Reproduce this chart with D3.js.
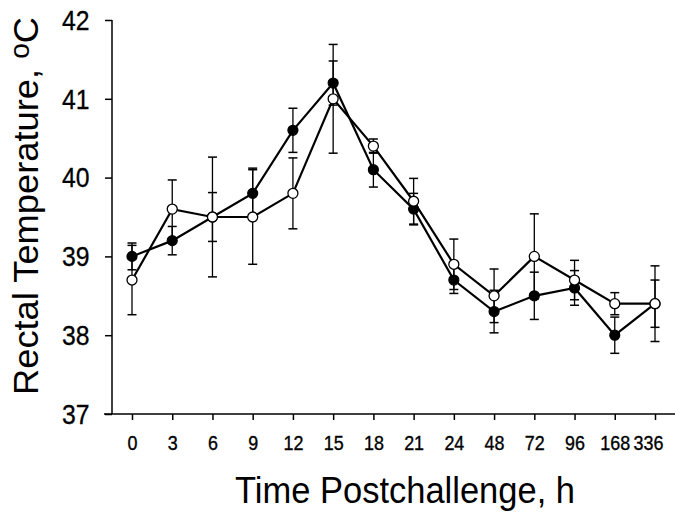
<!DOCTYPE html>
<html><head><meta charset="utf-8">
<script src="https://cdn.jsdelivr.net/npm/d3@7"></script>
<style>body{margin:0;background:#fff}svg{display:block}text{font-family:"Liberation Sans",Arial,sans-serif;fill:#000}</style>
</head><body>
<svg id="c" width="675" height="512"></svg>
<script>
const categories = ["0","3","6","9","12","15","18","21","24","48","72","96","168","336"];
const filledMean = [39.0,39.2,39.5,39.8,40.6,41.2,40.1,39.6,38.7,38.3,38.5,38.6,38.0,38.4];
const filledErr  = [0.17,0.18,0.31,0.32,0.28,0.28,0.22,0.20,0.17,0.27,0.30,0.22,0.23,0.30];
const openMean   = [38.7,39.6,39.5,39.5,39.8,41.0,40.4,39.7,38.9,38.5,39.0,38.7,38.4,38.4];
const openErr    = [0.44,0.37,0.76,0.60,0.45,0.69,0.09,0.29,0.32,0.34,0.54,0.25,0.14,0.48];
const yTicks = [37,38,39,40,41,42];

const svg = d3.select("#c");
const x = d3.scalePoint().domain(categories).range([132,655]);
const y = d3.scaleLinear().domain([37,42]).range([414,20]);

// axes
const yAxis = d3.axisLeft(y).tickValues(yTicks).tickSize(7).tickPadding(15).tickFormat(d3.format("d"));
const gy = svg.append("g").attr("transform","translate(112,0)").call(yAxis);
gy.select(".domain").attr("d","M0,20V414").attr("stroke","#000").attr("stroke-width",1.5);
gy.selectAll(".tick line").attr("stroke","#000").attr("stroke-width",1.5);
gy.selectAll(".tick text").style("font-size","27.5px").attr("dy","0.34em")
  .attr("stroke","#000").attr("stroke-width",0.3)
  .attr("x",0).attr("transform","translate(-22.5,0) scale(0.9,1)");

const xAxis = d3.axisBottom(x).tickSize(6).tickPadding(16);
const gx = svg.append("g").attr("transform","translate(0,414)").call(xAxis);
gx.select(".domain").attr("d","M104,0H675").attr("stroke","#000").attr("stroke-width",1.5);
gx.selectAll(".tick line").attr("stroke","#000").attr("stroke-width",1.5);
gx.selectAll(".tick text").style("font-size","19.5px")
  .attr("stroke","#000").attr("stroke-width",0.35)
  .attr("transform",d=>`translate(${d==="336"?-7:0},0) scale(0.92,1)`);

// titles
svg.append("text").attr("x",405).attr("y",503).attr("text-anchor","middle")
  .attr("textLength",340).attr("lengthAdjust","spacingAndGlyphs")
  .style("font-size","36px").text("Time Postchallenge, h");
const yt = svg.append("text").attr("transform","translate(38,206) rotate(-90)").attr("text-anchor","middle")
  .attr("textLength",378).attr("lengthAdjust","spacingAndGlyphs")
  .style("font-size","35px");
yt.append("tspan").text("Rectal Temperature, ");
yt.append("tspan").style("font-size","27px").attr("dy","-9").text("o");
yt.append("tspan").attr("dy","9").text("C");

function drawSeries(mean, err){
  const g = svg.append("g");
  const data = categories.map((c,i)=>({c, m:mean[i], e:err[i]}));
  g.selectAll("line.eb").data(data).join("line").attr("class","eb")
    .attr("x1",d=>x(d.c)).attr("x2",d=>x(d.c))
    .attr("y1",d=>y(d.m-d.e)).attr("y2",d=>y(d.m+d.e))
    .attr("stroke","#000").attr("stroke-width",1.3);
  ["top","bot"].forEach(k=>{
    g.selectAll("line.cap"+k).data(data).join("line").attr("class","cap"+k)
      .attr("x1",d=>x(d.c)-4.5).attr("x2",d=>x(d.c)+4.5)
      .attr("y1",d=>y(k==="top"?d.m+d.e:d.m-d.e)).attr("y2",d=>y(k==="top"?d.m+d.e:d.m-d.e))
      .attr("stroke","#000").attr("stroke-width",1.5);
  });
  return {g,data};
}
const A = drawSeries(filledMean, filledErr);
const B = drawSeries(openMean, openErr);
const line = d3.line().x(d=>x(d.c)).y(d=>y(d.m));
[A,B].forEach(s=>{
  svg.append("path").datum(s.data).attr("d",line).attr("fill","none").attr("stroke","#000").attr("stroke-width",2.2);
});
svg.append("g").selectAll("circle").data(A.data).join("circle")
  .attr("cx",d=>x(d.c)).attr("cy",d=>y(d.m)).attr("r",5).attr("fill","#000").attr("stroke","#000").attr("stroke-width",1.2);
svg.append("g").selectAll("circle").data(B.data).join("circle")
  .attr("cx",d=>x(d.c)).attr("cy",d=>y(d.m)).attr("r",5).attr("fill","#fff").attr("stroke","#000").attr("stroke-width",1.3);
</script>
</body></html>
